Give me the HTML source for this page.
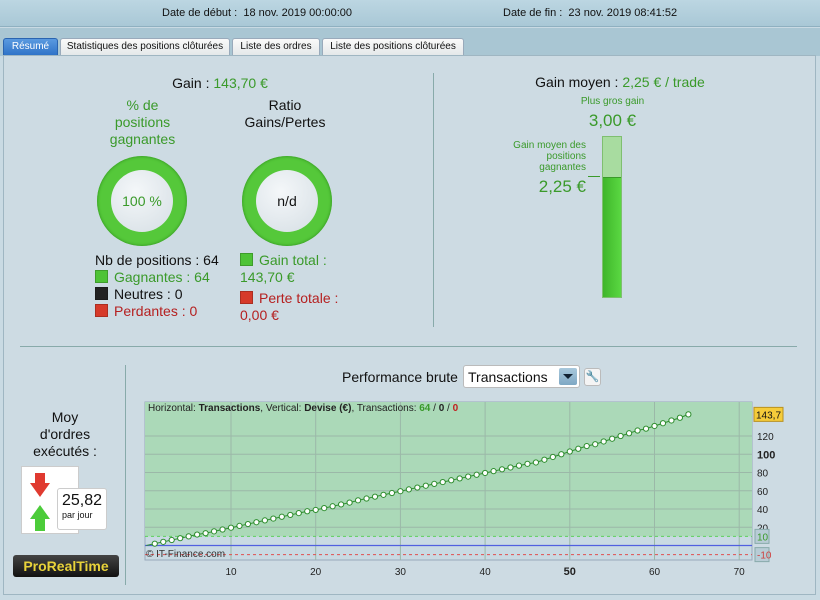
<!DOCTYPE html>
<html><head><meta charset="utf-8"><style>
*{margin:0;padding:0;box-sizing:border-box}
body{width:820px;height:600px;background:#c9dae3;font-family:"Liberation Sans",sans-serif;position:relative;overflow:hidden;color:#111}
.a{position:absolute}
.g{color:#3a9a2a}.r{color:#b52020}
.tab{position:absolute;top:38px;height:17px;font-size:10px;white-space:nowrap;overflow:hidden;background:linear-gradient(#fafafa,#e4e8ea);border:1px solid #9ab;border-bottom:none;border-radius:3px 3px 0 0;text-align:center;line-height:16px}
.sq{display:inline-block;width:13px;height:13px;vertical-align:-1px;margin-right:6px;border:1px solid rgba(0,0,0,.2)}
</style></head><body>
<div class="a" style="left:0;top:0;width:820px;height:27px;background:linear-gradient(#bcd6e2,#a9c8d6);border-bottom:1px solid #8fb0c0"></div>
<div class="a" style="left:162px;top:7px;font-size:11px">Date de début :&nbsp; 18 nov. 2019 00:00:00</div>
<div class="a" style="left:503px;top:7px;font-size:11px">Date de fin :&nbsp; 23 nov. 2019 08:41:52</div>
<div class="a" style="left:0;top:28px;width:820px;height:28px;background:#a9c6d3"></div>
<div class="tab" style="left:3px;width:55px;background:linear-gradient(#5a9ae0,#2f73c8);color:#fff;border-color:#2a64b0">Résumé</div>
<div class="tab" style="left:60px;width:170px">Statistiques des positions clôturées</div>
<div class="tab" style="left:232px;width:88px">Liste des ordres</div>
<div class="tab" style="left:322px;width:142px">Liste des positions clôturées</div>
<div class="a" style="left:3px;top:55px;width:813px;height:540px;border:1px solid #9fb6c2;background:#cddbe3"></div>

<div class="a" style="left:80px;top:75px;width:280px;text-align:center;font-size:14px">Gain : <span class="g">143,70 €</span></div>
<div class="a g" style="left:90px;top:97px;width:105px;text-align:center;font-size:14px;line-height:17px">% de<br>positions<br>gagnantes</div>
<div class="a" style="left:230px;top:97px;width:110px;text-align:center;font-size:14px;line-height:17px">Ratio<br>Gains/Pertes</div>
<div class="a" style="left:97px;top:156px;width:90px;height:90px;border-radius:50%;background:#55c83a;box-shadow:inset 0 0 3px #2a8a1a"><div style="position:absolute;left:14px;top:14px;width:62px;height:62px;border-radius:50%;background:radial-gradient(circle at 40% 35%,#f4f7f9,#d5dee4);text-align:center;line-height:62px;font-size:14px;color:#3a9a2a">100 %</div></div>
<div class="a" style="left:242px;top:156px;width:90px;height:90px;border-radius:50%;background:#55c83a;box-shadow:inset 0 0 3px #2a8a1a"><div style="position:absolute;left:14px;top:14px;width:62px;height:62px;border-radius:50%;background:radial-gradient(circle at 40% 35%,#f4f7f9,#d5dee4);text-align:center;line-height:62px;font-size:14px">n/d</div></div>
<div class="a" style="left:95px;top:252px;font-size:14px;line-height:17px">Nb de positions : 64<br><span class="g"><span class="sq" style="background:#4ec336"></span>Gagnantes : 64</span><br><span class="sq" style="background:#222"></span>Neutres : 0<br><span class="r"><span class="sq" style="background:#d63a2a"></span>Perdantes : 0</span></div>
<div class="a" style="left:240px;top:252px;font-size:14px;line-height:17px"><span class="g"><span class="sq" style="background:#4ec336"></span>Gain total :<br>143,70 €</span><div style="height:4px"></div><span class="r"><span class="sq" style="background:#d63a2a"></span>Perte totale :<br>0,00 €</span></div>
<div class="a" style="left:433px;top:73px;width:1px;height:254px;background:#8aa"></div>

<div class="a" style="left:500px;top:74px;width:240px;text-align:center;font-size:14px">Gain moyen : <span class="g">2,25 € / trade</span></div>
<div class="a g" style="left:555px;top:96px;width:115px;text-align:center;font-size:10px">Plus gros gain</div>
<div class="a g" style="left:555px;top:111px;width:115px;text-align:center;font-size:17px">3,00 €</div>
<div class="a g" style="left:500px;top:140px;width:86px;text-align:right;font-size:10px;line-height:11px">Gain moyen des positions gagnantes</div>
<div class="a g" style="left:500px;top:177px;width:86px;text-align:right;font-size:17px">2,25 €</div>
<div class="a" style="left:588px;top:176px;width:12px;height:1px;background:#3a9a2a"></div>
<div class="a" style="left:602px;top:136px;width:20px;height:162px;border:1px solid #7fbf70;background:#a8dca0"><div style="position:absolute;left:0;top:40px;width:18px;height:120px;background:linear-gradient(90deg,#3fb52a,#5ad842);border-top:1px solid #3a9a2a"></div></div>

<div class="a" style="left:20px;top:346px;width:777px;height:1px;background:#8aa"></div>
<div class="a" style="left:125px;top:365px;width:1px;height:220px;background:#8aa"></div>
<div class="a" style="left:10px;top:409px;width:110px;text-align:center;font-size:14px;line-height:17px">Moy<br>d'ordres<br>exécutés :</div>
<div class="a" style="left:21px;top:466px;width:58px;height:68px;background:#fff;border:1px solid #ccc"><div style="position:absolute;left:8px;top:6px;width:0;height:0;border-left:10px solid transparent;border-right:10px solid transparent;border-top:14px solid #e03a30;margin-top:10px"></div><div style="position:absolute;left:13px;top:6px;width:10px;height:12px;background:#e03a30"></div><div style="position:absolute;left:8px;top:38px;border-left:10px solid transparent;border-right:10px solid transparent;border-bottom:14px solid #4ccc3a"></div><div style="position:absolute;left:13px;top:52px;width:10px;height:12px;background:#4ccc3a"></div></div>
<div class="a" style="left:57px;top:488px;width:50px;height:42px;background:#fff;border:1px solid #ccc;border-radius:3px;padding:3px 4px"><div style="font-size:16px">25,82</div><div style="font-size:9px">par jour</div></div>
<div class="a" style="left:13px;top:555px;width:106px;height:22px;background:linear-gradient(#444,#111);border-radius:3px;color:#e8d23a;font-weight:bold;font-size:14px;text-align:center;line-height:22px">ProRealTime</div>

<div class="a" style="left:342px;top:369px;font-size:14px">Performance brute</div>
<div class="a" style="left:463px;top:365px;width:117px;height:23px;background:#fff;border:1px solid #bbb;border-radius:3px;font-size:14px;padding:3px 4px">Transactions<div style="position:absolute;right:2px;top:2px;width:18px;height:17px;background:linear-gradient(#a8c8dc,#7fa8c4);border-radius:2px"><div style="position:absolute;left:4px;top:6px;border-left:5px solid transparent;border-right:5px solid transparent;border-top:5px solid #123"></div></div></div>
<div class="a" style="left:584px;top:368px;width:17px;height:18px;background:#f4f4f4;border:1px solid #bbb;border-radius:3px;font-size:11px;text-align:center;line-height:16px">🔧</div>

<svg class="a" style="left:0;top:0" width="820" height="600" id="chart"></svg>
<script>
const xTicks=[10,20,30,40,50,60,70];
const yTicks=[20,40,60,80,100,120];
const equity=[2,4,6,8,10,12,13.5,15.5,17.5,19.5,21.5,23.5,25.5,27.5,29.5,31.5,33.5,35.5,37.5,39,41,43,45,47,49.5,51.5,53.5,55.5,57.5,59.5,61.5,63.5,65.5,67.5,69.5,71.5,73.5,75.5,77.5,79.5,81.5,83.5,85.5,87.5,89.5,91,94,97,100,103,106,109,111,114,117,120,123,126,128,131,134,137,140,143.7];
const lastLabel="143,7";
const svg=document.getElementById('chart');
const NS='http://www.w3.org/2000/svg';
const L=145,R=752,T=402,B=560;
const xs=v=>146.3+v*8.47;
const ys=v=>545.5-v*0.9125;
function mk(t,a){const e=document.createElementNS(NS,t);for(const k in a)e.setAttribute(k,a[k]);svg.appendChild(e);return e;}
let e=mk('rect',{x:L,y:T,width:R-L,height:B-T,fill:'#c9dae3',stroke:'#9ab'});


e=mk('rect',{x:L,y:T,width:R-L,height:ys(10)-T,fill:'#abd9b8'});


xTicks.forEach((t,i)=>{
 const l=mk('line',{x1:xs(t),x2:xs(t),y1:T,y2:B,stroke:'#9bb8a8','stroke-width':1});
 
 
 const tx=mk('text',{x:xs(t),y:575,'font-size':t==50?11:10,'font-weight':t==50?'bold':'normal','text-anchor':'middle',fill:'#222','font-family':'Liberation Sans'});
 tx.textContent=t;
 
 
});
yTicks.forEach(t=>{
 const l=mk('line',{x1:L,x2:R,y1:ys(t),y2:ys(t),stroke:'#9bb8a8','stroke-width':1});
 
 
 const tx=mk('text',{x:757,y:ys(t)+4,'font-size':t==100?11:10,'font-weight':t==100?'bold':'normal',fill:'#222','font-family':'Liberation Sans'});
 tx.textContent=t;
 
 
});
e=mk('line',{x1:L,x2:R,y1:ys(10),y2:ys(10),stroke:'#5cd05c','stroke-dasharray':'3,3'});


e=mk('line',{x1:L,x2:R,y1:ys(-10),y2:ys(-10),stroke:'#e05050','stroke-dasharray':'3,3'});


e=mk('line',{x1:L,x2:R,y1:ys(0),y2:ys(0),stroke:'#5060e0','stroke-width':1.2});


let d='M'+xs(0)+','+ys(0);
equity.forEach((v,i)=>{d+=' L'+xs(i+1)+','+ys(v);});
e=mk('path',{d:d,fill:'none',stroke:'#2e8e2e','stroke-width':1});


equity.forEach((v,i)=>{
 const c=mk('circle',{cx:xs(i+1),cy:ys(v),r:2.6,fill:'#fff',stroke:'#2e8e2e','stroke-width':1});
 
 
});
e=mk('rect',{x:754,y:ys(equity[equity.length-1])-7,width:29,height:14,fill:'#f5cc3a',stroke:'#b89020'});


e=mk('text',{x:768.5,y:ys(equity[equity.length-1])+4,'font-size':10,'text-anchor':'middle',fill:'#111','font-family':'Liberation Sans'});
e.textContent=lastLabel;


[[10,'#3a9a2a','10'],[-10,'#d04040','-10']].forEach(a=>{
 const r=mk('rect',{x:755,y:ys(a[0])-7,width:14,height:14,fill:'#b8ccd6',stroke:'#8aa'});
 
 
 const t=mk('text',{x:757,y:ys(a[0])+4,'font-size':10,fill:a[1],'font-family':'Liberation Sans'});
 t.textContent=a[2];
 
 
});
e=mk('text',{x:148,y:411,'font-size':10,fill:'#222','font-family':'Liberation Sans'});
e.innerHTML='Horizontal: <tspan font-weight="bold">Transactions</tspan>, Vertical: <tspan font-weight="bold">Devise (€)</tspan>, Transactions: <tspan fill="#3a9a2a" font-weight="bold">64</tspan> / <tspan font-weight="bold">0</tspan> / <tspan fill="#c02020" font-weight="bold">0</tspan>';


e=mk('text',{x:146,y:557,'font-size':10,fill:'#333','font-family':'Liberation Sans'});
e.textContent='© IT-Finance.com';


</script>
</body></html>
